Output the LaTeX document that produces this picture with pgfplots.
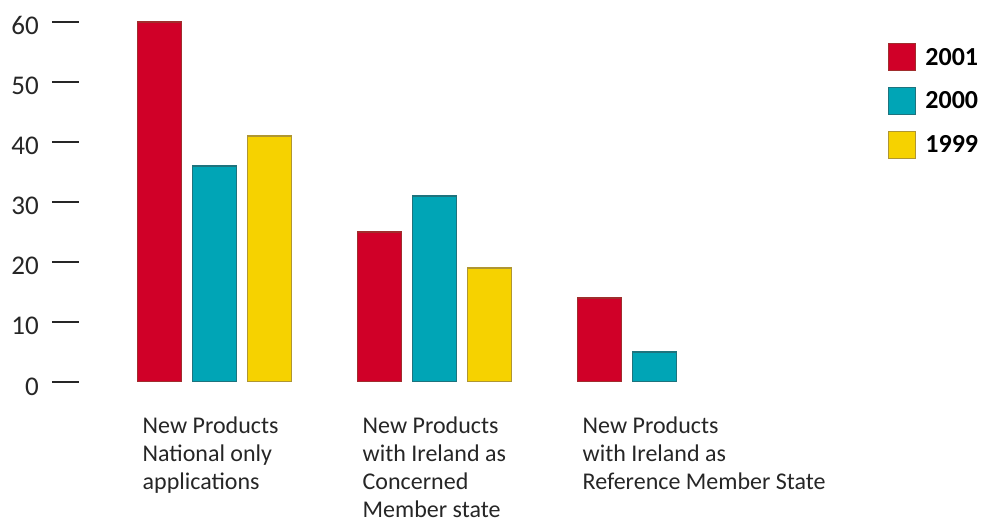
\documentclass[border=0pt]{standalone}
\usepackage{fontspec}
\setmainfont{Carlito}
\usepackage{pgfplots}
\pgfplotsset{compat=1.18}
\definecolor{cred}{RGB}{208,0,40}
\definecolor{cteal}{RGB}{0,165,182}
\definecolor{cyel}{RGB}{246,210,0}
\definecolor{dred}{RGB}{160,45,45}
\definecolor{dteal}{RGB}{30,115,125}
\definecolor{dyel}{RGB}{175,150,50}
\begin{document}
\begin{tikzpicture}
\useasboundingbox (0,0) rectangle (985bp,529bp);
\begin{axis}[
  scale only axis,
  width=660bp, height=360bp,
  at={(104.5bp,147bp)}, anchor=south west,
  xmin=-0.5, xmax=2.5, ymin=0, ymax=60,
  axis line style={draw=none},
  tick style={draw=none},
  ybar, bar width=44bp,
  xtick={0,1,2},
  xticklabels={{New Products\\National only\\applications},
               {New Products\\with Ireland as\\Concerned\\Member state},
               {New Products\\with Ireland as\\Reference Member State}},
  xticklabel style={anchor=north west, align=left, inner sep=0pt, xshift=-72bp, yshift=-30bp,
     font={\fontsize{24bp}{28bp}\selectfont}, text=black!85},
  ytick={0,10,20,30,40,50,60},
  yticklabel={\pgfmathprintnumber{\tick}\hspace{13bp}\rule[12.4bp]{27bp}{1.2bp}},
  yticklabel style={anchor=base east, inner sep=0pt, xshift=-25.5bp, yshift=-13bp,
     font={\fontsize{27bp}{32bp}\selectfont}, text=black!85},
  /pgf/number format/assume math mode=true,
  legend image code/.code={\fill[#1] (0bp,-13.5bp) rectangle (27bp,13.5bp);},
  legend style={at={(1.1871,0.9417)}, anchor=north west, draw=none, fill=none,
     inner sep=0pt, row sep=15.5bp, font={\bfseries\fontsize{26bp}{30bp}\selectfont},
     nodes={inner sep=0pt, anchor=west}, column sep=9bp},
  legend cell align=left,
]
\addplot[fill=cred, draw=dred, line width=1.2bp, bar shift=-55bp] coordinates {(0,60) (1,25) (2,14)};
\addplot[fill=cteal, draw=dteal, line width=1.2bp, bar shift=0bp] coordinates {(0,36) (1,31) (2,5)};
\addplot[fill=cyel, draw=dyel, line width=1.2bp, bar shift=55bp] coordinates {(0,41) (1,19)};
\legend{2001,2000,1999}
\end{axis}
\end{tikzpicture}
\end{document}
